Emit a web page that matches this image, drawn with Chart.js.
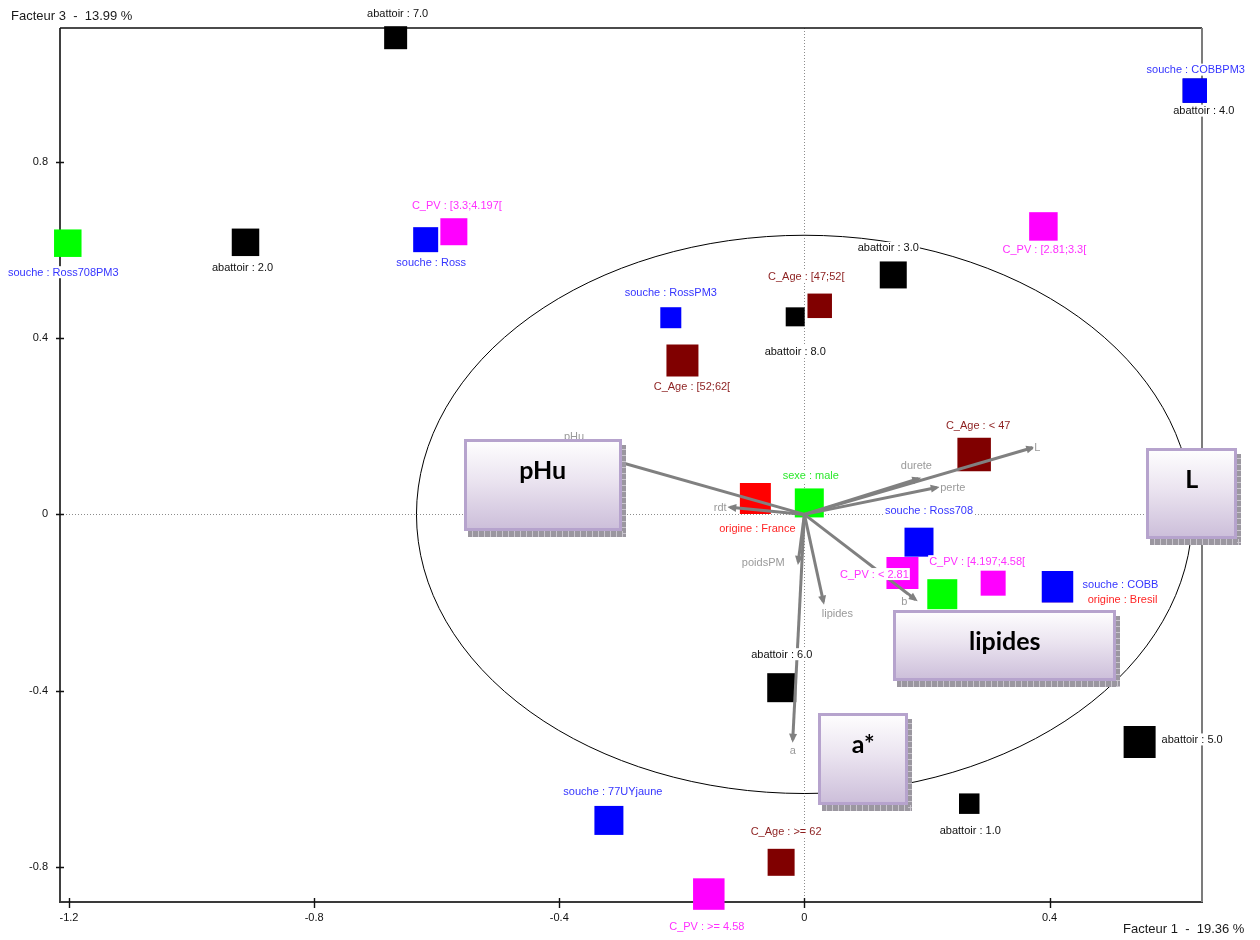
<!DOCTYPE html>
<html><head><meta charset="utf-8">
<script src="https://cdn.jsdelivr.net/npm/chart.js@4.4.1/dist/chart.umd.min.js"></script>
<style>html,body{margin:0;padding:0;background:#fff}#wrap{width:1260px;height:940px;position:relative}</style>
</head><body><div id="wrap"><canvas id="c" width="1260" height="940"></canvas></div>
<script>
// ---------- DATA ----------
const categories = [
  'abattoir : 7.0','abattoir : 4.0','souche : COBBPM3','souche : Ross708PM3','abattoir : 2.0',
  'souche : Ross','C_PV : [3.3;4.197[','C_PV : [2.81;3.3[','abattoir : 3.0','C_Age : [47;52[',
  'abattoir : 8.0','souche : RossPM3','C_Age : [52;62[','C_Age : < 47','origine : France',
  'sexe : male','souche : Ross708','C_PV : < 2.81','sexe : femelle','C_PV : [4.197;4.58[',
  'origine : Bresil','souche : COBB','abattoir : 6.0','abattoir : 5.0','abattoir : 1.0',
  'souche : 77UYjaune','C_Age : >= 62','C_PV : >= 4.58'
];
const factor1 = [
  -0.667, 0.637, 0.637, -1.202, -0.912,
  -0.618, -0.572, 0.390, 0.145, 0.025,
  -0.015, -0.218, -0.199, 0.277, -0.080,
  0.008, 0.187, 0.160, 0.225, 0.308,
  0.413, 0.413, -0.037, 0.547, 0.269,
  -0.319, -0.038, -0.156
];
const factor3 = [
  1.081, 0.961, 0.961, 0.615, 0.617,
  0.623, 0.641, 0.653, 0.543, 0.473,
  0.448, 0.446, 0.349, 0.136, 0.036,
  0.026, -0.063, -0.133, -0.181, -0.156,
  -0.164, -0.164, -0.393, -0.516, -0.656,
  -0.694, -0.789, -0.861
];
// variables (correlation arrows)
const varNames = ['pHu','L','durete','perte','rdt','poidsPM','lipides','b','a'];
const varF1 = [-0.358, 0.372, 0.186, 0.216, -0.121, -0.010, 0.031, 0.181, -0.019];
const varF3 = [0.141, 0.151, 0.081, 0.061, 0.016, -0.108, -0.198, -0.193, -0.511];
const circleRadius = 0.633;
// highlighted variable boxes
const boxNames = ['pHu','L','lipides','a*'];
const boxF1 = [-0.427, 0.632, 0.327, 0.096];
const boxF3 = [0.066, 0.047, -0.298, -0.555];
// axes
const xTickValues = [-1.2, -0.8, -0.4, 0, 0.4];
const xTickLabels = ['-1.2', '-0.8', '-0.4', '0', '0.4'];
const yTickValues = [-0.8, -0.4, 0, 0.4, 0.8];
const yTickLabels = ['-0.8', '-0.4', '0', '0.4', '0.8'];
const xTitle = 'Facteur 1  -  19.36 %';
const yTitle = 'Facteur 3  -  13.99 %';

// ---------- STYLE / LAYOUT ----------
const markerSide = [23,24,24.5,27.5,27.5, 25,27,28.5,27,24.5, 19,21,32,33.5,31, 29,29,32,30,25, 31,31.5,29,32,20.5, 29,27,31.5];
const labelDx = [2,9,1,-4.5,-3, 5.5,3,1,-5,-13.5, 0,0,9.5,4,2, 1.5,10,-28,0,-16, 65,63,0,52.5,1, 4,5,-2];
const labelDy = [-24,20,-21,29,25, 23,-26,23,-27,-29, 35,-25,25.5,-28.5,29.5, -27,-32,1,28,-22, 13,-2,-33.5,-2.5,26.5, -29,-31,32.5];
const varLabelDx = [-11,5,-2,16,-10,-35,14,-11,0];
const varLabelDy = [-16,0,-13,0,0,0,12,2,11];
const boxSize = [[158,92],[91,91],[223,71],[90,92]];
const groupStyle = {
  'abattoir': {fill:'#000000', text:'#111111'},
  'souche':   {fill:'#0000ff', text:'#3535ff'},
  'C_PV':     {fill:'#ff00ff', text:'#ff30ff'},
  'C_Age':    {fill:'#800000', text:'#8c1f1f'},
  'origine':  {fill:'#ff0000', text:'#ff2424'},
  'sexe':     {fill:'#00ff00', text:'#2ee82e'}
};
const fillOverride = {'souche : Ross708PM3': '#00ff00'};
const groupOf = c => c.split(' : ')[0];
const fills = categories.map(c => fillOverride[c] || groupStyle[groupOf(c)].fill);
const textColors = categories.map(c => groupStyle[groupOf(c)].text);
const FONT = '"Liberation Sans", Arial, sans-serif';

function bgText(ctx, text, x, y, color) {
  ctx.font = '11px ' + FONT;
  const w = ctx.measureText(text).width;
  ctx.fillStyle = '#ffffff';
  ctx.fillRect(x - w/2 - 1, y - 6, w + 2, 12);
  ctx.fillStyle = color;
  ctx.textAlign = 'center';
  ctx.textBaseline = 'middle';
  ctx.fillText(text, x, y + 0.5);
}

function drawBox(ctx, cx, cy, w, h, text) {
  const x = Math.round(cx - w/2), y = Math.round(cy - h/2);
  // hatched shadow
  ctx.fillStyle = '#9b97a0';
  ctx.fillRect(x + 4, y + 6, w, h);
  ctx.strokeStyle = '#c9c5cd';
  ctx.lineWidth = 1;
  ctx.beginPath();
  for (let sx = x + 8; sx < x + w + 4; sx += 6) { ctx.moveTo(sx + 0.5, y + h); ctx.lineTo(sx + 0.5, y + h + 6); }
  for (let sy = y + 10; sy < y + h + 6; sy += 6) { ctx.moveTo(x + w, sy + 0.5); ctx.lineTo(x + w + 4, sy + 0.5); }
  ctx.stroke();
  // body
  const g = ctx.createLinearGradient(0, y, 0, y + h);
  g.addColorStop(0, '#ffffff');
  g.addColorStop(0.45, '#ebe4f0');
  g.addColorStop(1, '#cbbdd9');
  ctx.fillStyle = g;
  ctx.fillRect(x, y, w, h);
  ctx.strokeStyle = '#b6a3cd';
  ctx.lineWidth = 3;
  ctx.strokeRect(x + 1.5, y + 1.5, w - 3, h - 3);
  ctx.fillStyle = '#000';
  ctx.font = 'bold 25px Lato, "Open Sans", sans-serif';
  ctx.textAlign = 'center';
  ctx.textBaseline = 'alphabetic';
  ctx.fillText(text, cx, y + 40);
}

const pcaPlugin = {
  id: 'pca',
  beforeDatasetsDraw(chart) {
    const {ctx, chartArea: a, scales: {x: sx, y: sy}} = chart;
    const X = v => sx.getPixelForValue(v), Y = v => sy.getPixelForValue(v);
    ctx.save();
    // zero lines (dotted)
    ctx.strokeStyle = '#8c8c8c';
    ctx.lineWidth = 1;
    ctx.setLineDash([1, 2]);
    const x0 = Math.round(X(0)) + 0.5, y0 = Math.round(Y(0)) + 0.5;
    ctx.beginPath();
    ctx.moveTo(x0, a.top); ctx.lineTo(x0, a.bottom);
    ctx.moveTo(a.left, y0); ctx.lineTo(a.right, y0);
    ctx.stroke();
    ctx.setLineDash([]);
    // correlation circle
    const rx = X(circleRadius) - X(0), ry = Y(0) - Y(circleRadius);
    ctx.strokeStyle = '#000';
    ctx.lineWidth = 1;
    ctx.beginPath();
    ctx.ellipse(X(0), Y(0), rx, ry, 0, 0, Math.PI * 2);
    ctx.stroke();
    // frame
    ctx.lineWidth = 1.6;
    ctx.strokeStyle = '#111';
    ctx.beginPath();
    ctx.moveTo(a.left, a.top); ctx.lineTo(a.right, a.top);
    ctx.moveTo(a.left, a.top); ctx.lineTo(a.left, a.bottom);
    ctx.stroke();
    ctx.strokeStyle = '#3a3a3a';
    ctx.lineWidth = 2;
    ctx.beginPath(); ctx.moveTo(a.left - 1, a.bottom); ctx.lineTo(a.right + 1, a.bottom); ctx.stroke();
    ctx.strokeStyle = '#7c7c7c';
    ctx.beginPath(); ctx.moveTo(a.right, a.top); ctx.lineTo(a.right, a.bottom); ctx.stroke();
    // tick marks
    ctx.strokeStyle = '#111';
    ctx.lineWidth = 1.4;
    ctx.beginPath();
    yTickValues.forEach(v => { const yy = Math.round(Y(v)) + 0.5; ctx.moveTo(a.left - 4, yy); ctx.lineTo(a.left + 4, yy); });
    xTickValues.forEach(v => { const xx = Math.round(X(v)) + 0.5; ctx.moveTo(xx, a.bottom - 4); ctx.lineTo(xx, a.bottom + 6); });
    ctx.stroke();
    ctx.restore();
  },
  afterDatasetsDraw(chart) {
    const {ctx, scales: {x: sx, y: sy}} = chart;
    const X = v => sx.getPixelForValue(v), Y = v => sy.getPixelForValue(v);
    ctx.save();
    // arrowheads
    const ox = X(0), oy = Y(0);
    ctx.fillStyle = '#808080';
    varNames.forEach((n, i) => {
      const tx = X(varF1[i]), ty = Y(varF3[i]);
      const dx = tx - ox, dy = ty - oy, L = Math.hypot(dx, dy);
      const ux = dx / L, uy = dy / L;
      const ax = tx + ux * 3, ay = ty + uy * 3;
      const bx = tx - ux * 6, by = ty - uy * 6;
      ctx.beginPath();
      ctx.moveTo(ax, ay);
      ctx.lineTo(bx - uy * 4, by + ux * 4);
      ctx.lineTo(bx + uy * 4, by - ux * 4);
      ctx.closePath();
      ctx.fill();
    });
    // variable labels
    varNames.forEach((n, i) => {
      bgText(ctx, n, X(varF1[i]) + varLabelDx[i], Y(varF3[i]) + varLabelDy[i], '#9a9a9a');
    });
    // category labels
    const meta = chart.getDatasetMeta(0);
    categories.forEach((c, i) => {
      const p = meta.data[i];
      bgText(ctx, c, p.x + labelDx[i], p.y + labelDy[i], textColors[i]);
    });
    // variable boxes
    boxNames.forEach((n, i) => {
      drawBox(ctx, X(boxF1[i]), Y(boxF3[i]), boxSize[i][0], boxSize[i][1], n);
    });
    // axis titles
    ctx.fillStyle = '#1a1a1a';
    ctx.font = '13px ' + FONT;
    ctx.textAlign = 'left';
    ctx.textBaseline = 'middle';
    ctx.fillText(yTitle, 11, 16);
    ctx.fillText(xTitle, 1123, 929);
    ctx.restore();
  }
};

function build() {
  const pointData = categories.map((c, i) => ({x: factor1[i], y: factor3[i]}));
  const arrowSets = varNames.map((n, i) => ({
    label: n,
    data: [{x: 0, y: 0}, {x: varF1[i], y: varF3[i]}],
    showLine: true,
    borderColor: '#808080',
    borderWidth: 3,
    pointRadius: 0,
    fill: false,
    clip: false,
    order: 1
  }));
  new Chart(document.getElementById('c'), {
    type: 'scatter',
    data: {
      datasets: [{
        label: 'modalités',
        data: pointData,
        pointStyle: 'rect',
        pointRadius: markerSide.map(s => s / Math.SQRT2),
        backgroundColor: fills,
        pointBackgroundColor: fills,
        pointBorderWidth: 0,
        borderWidth: 0,
        clip: false,
        order: 5
      }, ...arrowSets]
    },
    options: {
      responsive: false,
      devicePixelRatio: 1,
      animation: false,
      events: [],
      layout: {padding: {top: 28, right: 58, left: 0, bottom: 0}},
      plugins: {legend: {display: false}, tooltip: {enabled: false}},
      scales: {
        x: {
          type: 'linear', min: -1.2147, max: 0.6488,
          grid: {display: false, drawTicks: false}, border: {display: false},
          afterBuildTicks: s => { s.ticks = xTickValues.map(v => ({value: v})); },
          afterFit: s => { s.height = 38; },
          ticks: {padding: 9, maxRotation: 0, autoSkip: false, color: '#111',
                  font: {family: FONT, size: 11},
                  callback: (v, i) => xTickLabels[i]}
        },
        y: {
          type: 'linear', min: -0.879, max: 1.103,
          grid: {display: false, drawTicks: false}, border: {display: false},
          afterBuildTicks: s => { s.ticks = yTickValues.map(v => ({value: v})); },
          afterFit: s => { s.width = 60; },
          ticks: {padding: 12, autoSkip: false, color: '#111',
                  font: {family: FONT, size: 11},
                  callback: (v, i) => yTickLabels[i]}
        }
      }
    },
    plugins: [pcaPlugin]
  });
}
const fontLoads = [document.fonts.load('bold 25px Lato'), document.fonts.load('11px "Liberation Sans"'), document.fonts.load('13px "Liberation Sans"')];
Promise.race([Promise.all(fontLoads), new Promise(r => setTimeout(r, 400))]).then(build, build);
</script>
</body></html>
